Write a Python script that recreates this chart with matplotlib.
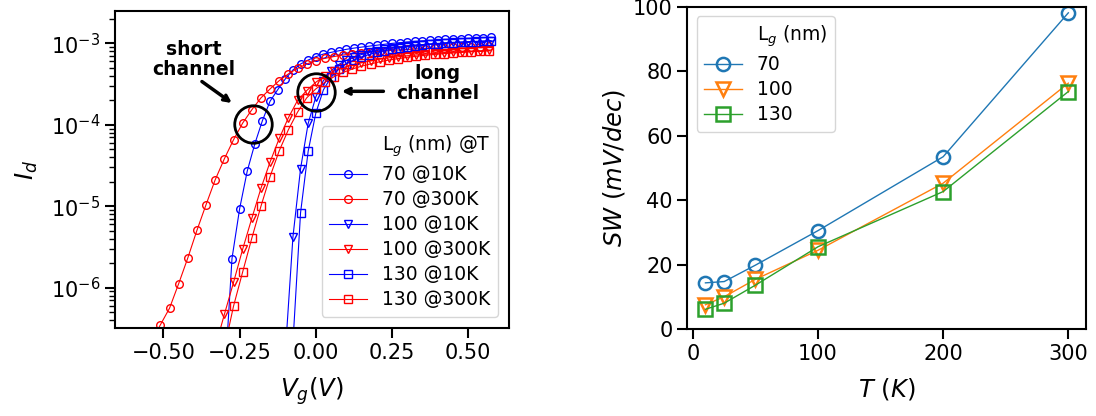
import matplotlib
matplotlib.use("Agg")
import matplotlib.pyplot as plt
from matplotlib.ticker import MultipleLocator
import numpy as np

nan = np.nan

# gate voltage sweeps (10K runs: 25 mV step, 300K runs: 30 mV step)
vg_10k = [-0.6, -0.575, -0.55, -0.525, -0.5, -0.475, -0.45, -0.425, -0.4, -0.375,
          -0.35, -0.325, -0.3, -0.275, -0.25, -0.225, -0.2, -0.175, -0.15, -0.125,
          -0.1, -0.075, -0.05, -0.025, 0.0, 0.025, 0.05, 0.075, 0.1, 0.125,
          0.15, 0.175, 0.2, 0.225, 0.25, 0.275, 0.3, 0.325, 0.35, 0.375,
          0.4, 0.425, 0.45, 0.475, 0.5, 0.525, 0.55, 0.575]
vg_300k = [-0.6, -0.57, -0.54, -0.51, -0.48, -0.45, -0.42, -0.39, -0.36, -0.33,
           -0.3, -0.27, -0.24, -0.21, -0.18, -0.15, -0.12, -0.09, -0.06, -0.03,
           0.0, 0.03, 0.06, 0.09, 0.12, 0.15, 0.18, 0.21, 0.24, 0.27,
           0.3, 0.33, 0.36, 0.39, 0.42, 0.45, 0.48, 0.51, 0.54, 0.57]

id_70_10k = [nan] * 12 + [6.5e-8, 2.28e-6, 9.3e-6, 2.7e-5, 5.85e-5, 1.13e-4, 1.95e-4, 2.7e-4,
             3.66e-4, 4.72e-4, 5.58e-4, 6.25e-4, 6.87e-4, 7.4e-4, 7.76e-4, 8.1e-4, 8.45e-4, 8.75e-4,
             9.0e-4, 9.25e-4, 9.5e-4, 9.75e-4, 1.0e-3, 1.02e-3, 1.04e-3, 1.06e-3, 1.075e-3, 1.09e-3,
             1.105e-3, 1.12e-3, 1.13e-3, 1.14e-3, 1.155e-3, 1.165e-3, 1.175e-3, 1.185e-3]
id_100_10k = [nan] * 20 + [1.6e-7, 4.2e-6, 2.89e-5, 1.04e-4, 2.2e-4, 3.49e-4, 4.6e-4, 5.5e-4,
              6.2e-4, 6.8e-4, 7.3e-4, 7.75e-4, 8.15e-4, 8.5e-4, 8.8e-4, 9.05e-4, 9.3e-4, 9.5e-4,
              9.68e-4, 9.85e-4, 1.0e-3, 1.015e-3, 1.03e-3, 1.04e-3, 1.05e-3, 1.06e-3, 1.07e-3, 1.08e-3]
id_130_10k = [nan] * 21 + [2.1e-7, 8.3e-6, 4.74e-5, 1.39e-4, 2.69e-4, 3.83e-4, 4.8e-4,
              5.6e-4, 6.25e-4, 6.8e-4, 7.3e-4, 7.75e-4, 8.15e-4, 8.5e-4, 8.8e-4, 9.05e-4, 9.3e-4,
              9.5e-4, 9.7e-4, 9.85e-4, 1.0e-3, 1.015e-3, 1.03e-3, 1.04e-3, 1.05e-3, 1.06e-3, 1.07e-3]

id_70_300k = [nan, nan, 2.2e-7, 3.5e-7, 5.6e-7, 1.12e-6, 2.32e-6, 5.07e-6, 1.05e-5, 2.12e-5,
              3.83e-5, 6.55e-5, 1.05e-4, 1.53e-4, 2.14e-4, 2.76e-4, 3.49e-4, 4.22e-4, 4.94e-4, 5.58e-4,
              6.14e-4, 6.55e-4, 6.9e-4, 7.2e-4, 7.45e-4, 7.65e-4, 7.85e-4, 8.0e-4, 8.15e-4, 8.3e-4,
              8.42e-4, 8.54e-4, 8.65e-4, 8.75e-4, 8.85e-4, 8.93e-4, 9.0e-4, 9.07e-4, 9.13e-4, 9.2e-4]
id_100_300k = [nan] * 9 + [1.86e-7,
               4.7e-7, 1.16e-6, 2.97e-6, 7.1e-6, 1.66e-5, 3.5e-5, 6.8e-5, 1.22e-4, 1.99e-4, 2.63e-4,
               3.33e-4, 4.02e-4, 4.6e-4, 5.05e-4, 5.45e-4, 5.8e-4, 6.1e-4, 6.4e-4, 6.65e-4, 6.85e-4,
               7.05e-4, 7.22e-4, 7.38e-4, 7.52e-4, 7.65e-4, 7.78e-4, 7.9e-4, 8.0e-4, 8.1e-4, 8.2e-4]
id_130_300k = [nan] * 10 + [
               1.8e-7, 5.93e-7, 1.56e-6, 4.05e-6, 1.0e-5, 2.32e-5, 4.8e-5, 8.7e-5, 1.43e-4, 2.14e-4,
               2.76e-4, 3.33e-4, 3.9e-4, 4.4e-4, 4.85e-4, 5.25e-4, 5.6e-4, 5.95e-4, 6.25e-4, 6.5e-4,
               6.75e-4, 6.95e-4, 7.15e-4, 7.32e-4, 7.48e-4, 7.62e-4, 7.75e-4, 7.88e-4, 8.0e-4, 8.1e-4]

# subthreshold swing vs temperature
temps = [10, 25, 50, 100, 200, 300]
sw_70 = [14.4, 14.8, 19.9, 30.6, 53.5, 98.1]
sw_100 = [7.6, 10.1, 15.5, 24.5, 45.3, 76.3]
sw_130 = [6.2, 8.1, 13.7, 25.6, 42.7, 73.7]

TICK_FS = 15
LABEL_FS = 17.5
LEG_FS = 13.5
plt.rcParams['axes.linewidth'] = 1.5

fig = plt.figure(figsize=(10.96, 4.16), dpi=100)
ax1 = fig.add_axes([0.1049, 0.2115, 0.3595, 0.7621])
ax2 = fig.add_axes([0.6271, 0.2084, 0.3642, 0.7755])

ax1.plot([], [], ' ', label='L$_g$ (nm) @T')
curves = [
    (vg_10k, id_70_10k, 'blue', 'o', '70 @10K'),
    (vg_300k, id_70_300k, 'red', 'o', '70 @300K'),
    (vg_10k, id_100_10k, 'blue', 'v', '100 @10K'),
    (vg_300k, id_100_300k, 'red', 'v', '100 @300K'),
    (vg_10k, id_130_10k, 'blue', 's', '130 @10K'),
    (vg_300k, id_130_300k, 'red', 's', '130 @300K'),
]
for vg, idv, c, m, lab in curves:
    ax1.plot(vg, idv, color=c, marker=m, mfc='none', mec=c, ms=5.5, mew=1.0,
             lw=0.8, label=lab)

ax1.set_yscale('log')
ax1.set_ylim(3.2e-7, 2.5e-3)
ax1.set_xlim(-0.659, 0.634)
ax1.xaxis.set_major_locator(MultipleLocator(0.25))
ax1.set_xlabel('$V_g(V)$', fontsize=LABEL_FS, labelpad=9)
ax1.set_ylabel('$I_d$', fontsize=LABEL_FS, labelpad=8)
ax1.tick_params(which='major', length=7, width=1.5, labelsize=TICK_FS)
ax1.tick_params(which='minor', length=4, width=1.0)
ax1.legend(loc='lower right', fontsize=LEG_FS, handlelength=2.0, labelspacing=0.32,
           borderaxespad=0.6)

# highlight circles and labels
ax1.plot(-0.2075, 1.02e-4, 'o', ms=27, mfc='none', mec='black', mew=2)
ax1.plot(0.001, 2.52e-4, 'o', ms=27, mfc='none', mec='black', mew=2)
ax1.text(-0.399, 6.3e-4, 'short\nchannel', ha='center', va='center',
         fontsize=LEG_FS, fontweight='bold', linespacing=1.1)
ax1.text(0.399, 3.2e-4, 'long\nchannel', ha='center', va='center',
         fontsize=LEG_FS, fontweight='bold', linespacing=1.1)
ax1.annotate('', xy=(-0.268, 1.77e-4), xytext=(-0.381, 3.56e-4),
             arrowprops=dict(arrowstyle='->', lw=2.5, color='black'))
ax1.annotate('', xy=(0.076, 2.58e-4), xytext=(0.231, 2.58e-4),
             arrowprops=dict(arrowstyle='->', lw=2.5, color='black'))

ax2.plot([], [], ' ', label='L$_g$ (nm)')
ax2.plot(temps, sw_70, marker='o', color='C0', mfc='none', ms=9.5, mew=1.8, lw=1, label='70')
ax2.plot(temps, sw_100, marker='v', color='C1', mfc='none', ms=9.5, mew=1.8, lw=1, label='100')
ax2.plot(temps, sw_130, marker='s', color='C2', mfc='none', ms=9.5, mew=1.8, lw=1, label='130')
ax2.set_ylim(0, 100)
ax2.xaxis.set_major_locator(MultipleLocator(100))
ax2.set_xlabel('$T\\ (K)$', fontsize=LABEL_FS, labelpad=9)
ax2.set_ylabel('$SW\\ (mV/dec)$', fontsize=LABEL_FS)
ax2.tick_params(which='major', length=7, width=1.5, labelsize=TICK_FS)
ax2.legend(loc='upper left', fontsize=LEG_FS, labelspacing=0.32)

fig.savefig('out.png', dpi=100)
